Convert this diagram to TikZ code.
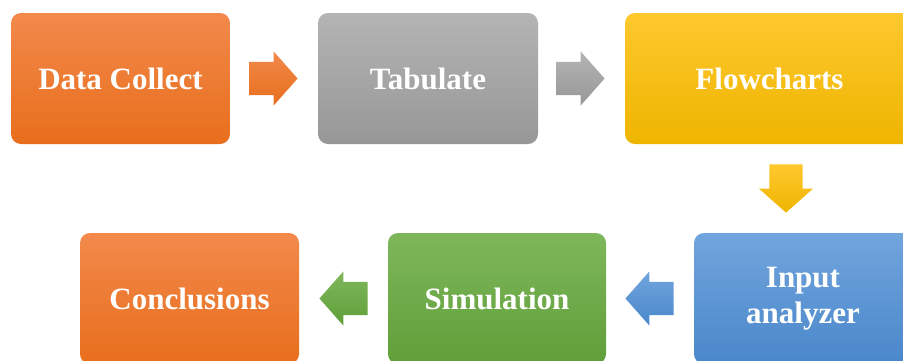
\documentclass[tikz,border=0pt]{standalone}
\usepackage{fontspec}
\setmainfont{Liberation Serif}
\usepackage{tikz}
\usetikzlibrary{shapes.arrows,positioning}
\definecolor{orangetop}{HTML}{F2894B}
\definecolor{orangebot}{HTML}{E86E1C}
\definecolor{graytop}{HTML}{B4B4B4}
\definecolor{graybot}{HTML}{979797}
\definecolor{yellowtop}{HTML}{FFC82E}
\definecolor{yellowbot}{HTML}{EEB500}
\definecolor{bluetop}{HTML}{71A5DD}
\definecolor{bluebot}{HTML}{4A87CA}
\definecolor{greentop}{HTML}{7EB75B}
\definecolor{greenbot}{HTML}{609F39}
\tikzset{
    stage/.style={rectangle, rounded corners=10pt, minimum width=219pt, minimum height=131pt,
                  inner sep=0pt, text=white, align=center,
                  font=\fontsize{31}{36}\selectfont\bfseries},
    blockarrow/.style={single arrow, inner sep=16.5pt, minimum height=47pt,
                  single arrow head extend=10.5pt, single arrow tip angle=97},
    orangefill/.style={top color=orangetop, bottom color=orangebot},
    grayfill/.style={top color=graytop, bottom color=graybot},
    yellowfill/.style={top color=yellowtop, bottom color=yellowbot},
    bluefill/.style={top color=bluetop, bottom color=bluebot},
    greenfill/.style={top color=greentop, bottom color=greenbot}
}
\begin{document}
\begin{tikzpicture}[x=1pt, y=-1pt]
    \useasboundingbox (0,0) rectangle (903,360);
    % Nodes
    \node[stage, orangefill] (collect) at (120.5,78.5) {Data Collect};
    \node[stage, grayfill, minimum width=220pt] (tabulate) at (428,78.5) {Tabulate};
    \node[stage, yellowfill, minimum width=289pt] (flow) at (769.5,78.5) {Flowcharts};
    \node[stage, bluefill, minimum width=218pt] (input) at (803,298.5) {Input\\analyzer};
    \node[stage, greenfill, minimum width=218pt] (sim) at (497,298.5) {Simulation};
    \node[stage, orangefill] (concl) at (189.5,298.5) {Conclusions};

    % arrows
    \node[blockarrow, orangefill, right=19pt of collect] (a1) {};
    \node[blockarrow, grayfill, right=18pt of tabulate] (a2) {};
    \node[blockarrow, yellowfill, shape border rotate=270, below=20pt of flow, xshift=16.5pt] (a3) {};
    \node[blockarrow, bluefill, shape border rotate=180, left=20pt of input] (a4) {};
    \node[blockarrow, greenfill, shape border rotate=180, left=20pt of sim] (a5) {};
\end{tikzpicture}
\end{document}
